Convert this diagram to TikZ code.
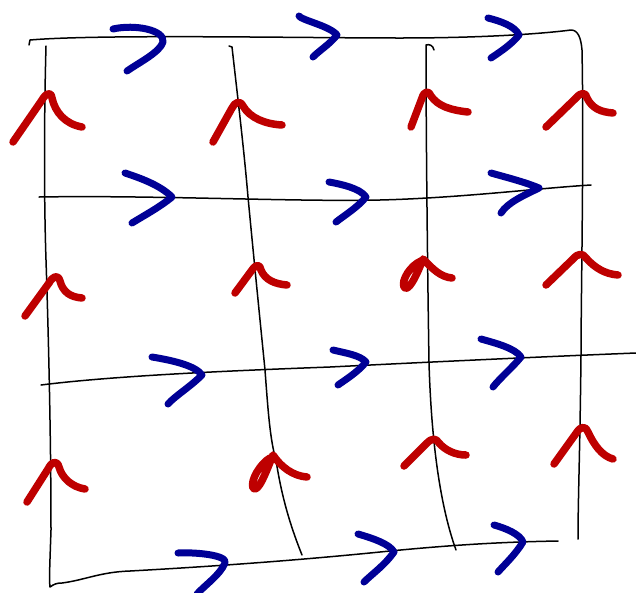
\documentclass[tikz,border=0pt]{standalone}
\begin{document}
\begin{tikzpicture}[x=1pt,y=-1pt,
  gridline/.style={line width=1.5pt, black, line cap=round, line join=round},
  bluechev/.style={line width=7pt, color=sketchblue, line cap=round, line join=round},
  redchev/.style={line width=7.5pt, color=sketchred, line cap=round, line join=round}]
\definecolor{sketchblue}{RGB}{0,0,150}
\definecolor{sketchred}{RGB}{190,0,0}
\fill[white] (0,0) rectangle (636,592);
\useasboundingbox (0,0) rectangle (636,592);

% ---- black grid lines ----
% top line + right vertical
\draw[gridline] (29,45) -- (30,40) .. controls (100,34) and (300,38) .. (400,38)
  .. controls (480,38) and (540,34) .. (571,30) .. controls (578,30) and (581,38) .. (582,50)
  .. controls (584,150) and (581,300) .. (581,355) .. controls (580,450) and (578,500) .. (578,539);
% second horizontal
\draw[gridline] (39,197) .. controls (150,195) and (300,202) .. (380,200)
  .. controls (460,198) and (540,188) .. (591,185);
% third horizontal
\draw[gridline] (41,385) .. controls (120,375) and (250,370) .. (330,367)
  .. controls (450,361) and (560,356) .. (636,353);
% left vertical + bottom line
\draw[gridline] (46,46) .. controls (44,120) and (44,200) .. (46,260)
  .. controls (49,350) and (51,450) .. (51,530) .. controls (50,560) and (49,580) .. (50,587)
  .. controls (54,584) and (57,583) .. (62,583) .. controls (85,580) and (100,572) .. (130,571)
  .. controls (220,566) and (300,560) .. (380,552) .. controls (450,545) and (500,542) .. (558,541);
% second vertical
\draw[gridline] (229,46) -- (232,47) .. controls (238,100) and (244,150) .. (248,197)
  .. controls (254,260) and (260,320) .. (265,370) .. controls (268,410) and (270,440) .. (276,460)
  .. controls (282,500) and (292,530) .. (302,555);
% third vertical
\draw[gridline] (434,50) .. controls (433,45) and (429,44) .. (426,45)
  .. controls (426,150) and (428,300) .. (429,363) .. controls (431,430) and (438,500) .. (456,550);

% ---- blue chevrons ----
\draw[bluechev] (113,29) .. controls (135,24) and (165,30) .. (163,42) .. controls (160,52) and (140,62) .. (127,71);
\draw[bluechev] (299,16) .. controls (301,20) and (330,26) .. (337,35) .. controls (330,44) and (320,50) .. (313,57);
\draw[bluechev] (488,18) .. controls (500,21) and (515,26) .. (519,35) .. controls (512,44) and (500,52) .. (491,58);
\draw[bluechev] (125,173) .. controls (140,178) and (160,185) .. (172,197) .. controls (160,207) and (145,215) .. (132,223);
\draw[bluechev] (329,182) .. controls (340,184) and (360,188) .. (366,197) .. controls (358,207) and (345,215) .. (336,222);
\draw[bluechev] (491,173) .. controls (505,177) and (525,182) .. (539,188) .. controls (525,195) and (508,202) .. (501,213);
\draw[bluechev] (152,357) .. controls (170,360) and (195,365) .. (202,375) .. controls (190,387) and (175,396) .. (168,404);
\draw[bluechev] (333,350) .. controls (345,353) and (360,355) .. (366,362) .. controls (358,372) and (345,380) .. (338,385);
\draw[bluechev] (481,339) .. controls (495,343) and (515,348) .. (521,357) .. controls (512,368) and (500,378) .. (493,387);
\draw[bluechev] (178,553) .. controls (195,552) and (228,555) .. (225,563) .. controls (220,575) and (205,585) .. (197,594);
\draw[bluechev] (358,534) .. controls (372,538) and (390,544) .. (394,552) .. controls (385,565) and (372,574) .. (364,582);
\draw[bluechev] (494,525) .. controls (505,528) and (520,534) .. (523,542) .. controls (515,555) and (505,564) .. (498,572);

% ---- red chevrons ----
\draw[redchev] (13,142) -- (42,100) .. controls (46,93) and (51,91) .. (52,98) .. controls (55,112) and (65,124) .. (82,127);
\draw[redchev] (213,142) -- (232,108) .. controls (235,102) and (240,100) .. (243,106) .. controls (250,118) and (265,124) .. (282,125);
\draw[redchev] (411,127) -- (422,98) .. controls (424,91) and (429,90) .. (431,96) .. controls (438,106) and (450,110) .. (468,112);
\draw[redchev] (546,127) -- (576,98) .. controls (581,92) and (586,92) .. (587,98) .. controls (592,108) and (600,112) .. (613,113);
% row 2
\draw[redchev] (25,316) -- (49,283) .. controls (53,276) and (58,274) .. (60,281) .. controls (63,292) and (70,297) .. (82,298);
\draw[redchev] (235,293) -- (252,270) .. controls (256,264) and (260,264) .. (261,270) .. controls (265,280) and (275,284) .. (287,285);
\draw[redchev] (421,261) .. controls (411,265) and (401,280) .. (404,287) .. controls (408,293) and (416,277) .. (423,259)
  .. controls (432,268) and (440,277) .. (452,278);
\draw[redchev] (546,285) -- (573,259) .. controls (578,253) and (583,253) .. (586,258) .. controls (595,268) and (605,274) .. (618,275);
% row 3
\draw[redchev] (27,502) -- (48,469) .. controls (52,461) and (57,460) .. (59,467) .. controls (62,478) and (72,487) .. (85,489);
\draw[redchev] (270,458) .. controls (261,463) and (250,480) .. (253,488) .. controls (258,494) and (266,472) .. (273,455)
  .. controls (281,467) and (293,476) .. (307,477);
\draw[redchev] (404,466) -- (427,443) .. controls (432,438) and (436,438) .. (439,443) .. controls (445,450) and (455,455) .. (466,455);
\draw[redchev] (554,464) -- (577,432) .. controls (581,426) and (586,426) .. (588,432) .. controls (594,445) and (602,456) .. (613,459);
\end{tikzpicture}
\end{document}
